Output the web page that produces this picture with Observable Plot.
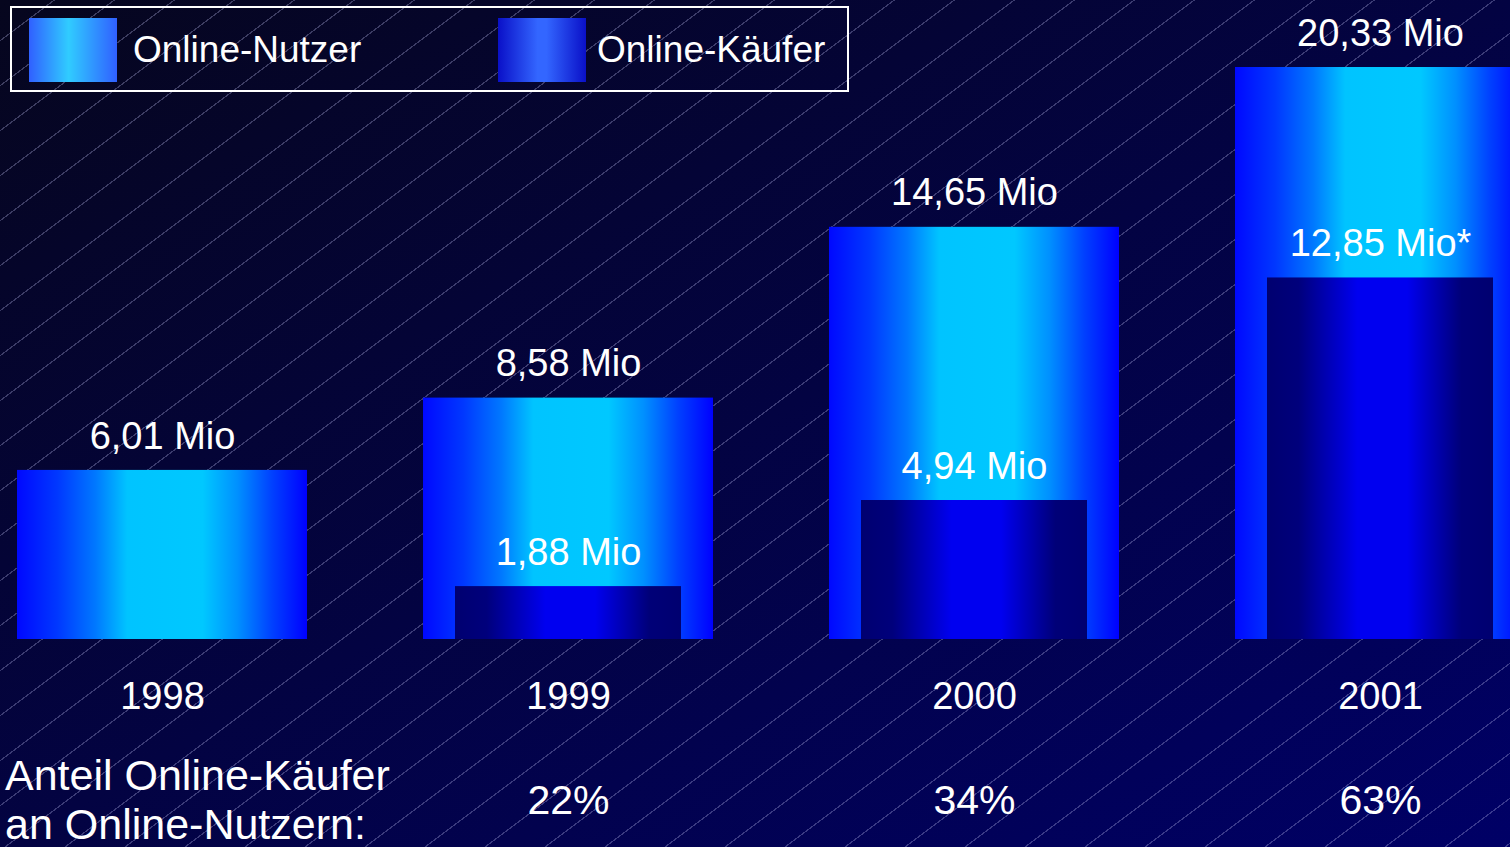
<!DOCTYPE html>
<html>
<head>
<meta charset="utf-8">
<script src="https://cdn.jsdelivr.net/npm/d3@7"></script>
<script src="https://cdn.jsdelivr.net/npm/@observablehq/plot@0.6"></script>
<style>
  html, body { margin: 0; padding: 0; overflow: hidden; background: #02023a; }
  #wrap {
    position: relative; width: 1510px; height: 847px; overflow: hidden;
    background: linear-gradient(to bottom right, #06061e, #000066);
    font-family: "Liberation Sans", Arial, sans-serif; color: #fff;
  }
  #lines {
    position: absolute; left: 0; top: 0; width: 1510px; height: 847px;
    background: repeating-linear-gradient(143.13deg,
      rgba(190,190,240,0) 0px, rgba(190,190,240,0) 32px,
      rgba(190,190,240,0.3) 32px, rgba(190,190,240,0.3) 33.2px,
      rgba(190,190,240,0) 33.2px, rgba(190,190,240,0) 36px);
  }
  #chart { position: absolute; left: 0; top: 0; }
  #chart svg { overflow: hidden; background: transparent; }
  #legend {
    position: absolute; left: 10px; top: 6px; width: 839px; height: 86px;
    box-sizing: border-box; border: 2px solid #fff;
  }
  .sw { position: absolute; top: 18px; width: 88px; height: 64px; }
  .lt { position: absolute; top: 30px; font-size: 37px; line-height: 40px; white-space: nowrap; }
  #caption {
    position: absolute; left: 5px; top: 751px; font-size: 43px; line-height: 49px; white-space: nowrap;
  }
</style>
</head>
<body>
<div id="wrap">
  <div id="lines"></div>
  <div id="chart"></div>
  <div id="legend"></div>
  <div class="sw" style="left:29px;background:linear-gradient(to right,#3060ff,#30ccff 45%,#3060ff)"></div>
  <div class="lt" style="left:133px">Online-Nutzer</div>
  <div class="sw" style="left:498px;background:linear-gradient(to right,#0a10c8,#3366ff 45%,#3366ff 55%,#0a10c8)"></div>
  <div class="lt" style="left:597px">Online-Käufer</div>
  <div id="caption">Anteil Online-Käufer<br>an Online-Nutzern:</div>
</div>
<script>
// ---- data ----
const years = ["1998", "1999", "2000", "2001"];
const nutzer = [6.01, 8.58, 14.65, 20.33];          // Online-Nutzer (Mio)
const kaeufer = [null, 1.88, 4.94, 12.85];          // Online-Käufer (Mio)
const kaeuferNote = ["", "", "", "*"];
const anteil = ["", "22%", "34%", "63%"];           // Anteil Online-Käufer an Online-Nutzern

const fmt = v => v.toFixed(2).replace(".", ",") + " Mio";

const nutzerData = years.map((y, i) => ({year: y, value: nutzer[i], label: fmt(nutzer[i])}));
const kaeuferData = years.map((y, i) => ({year: y, value: kaeufer[i], label: kaeufer[i] == null ? "" : fmt(kaeufer[i]) + kaeuferNote[i]}))
  .filter(d => d.value != null);
const anteilData = years.map((y, i) => ({year: y, text: anteil[i]})).filter(d => d.text);

const font = "'Liberation Sans', Arial, sans-serif";

const svg = Plot.plot({
  width: 1510,
  height: 847,
  marginTop: 67,
  marginBottom: 208,
  marginLeft: 0,
  marginRight: 0,
  style: {background: "transparent", color: "#fff", fontFamily: font, fontSize: "38px", overflow: "hidden"},
  x: {domain: years, range: [17, 1525], paddingInner: 0.2857, paddingOuter: 0, round: false, tickSize: 0, tickPadding: 43, label: null},
  y: {domain: [0, 20.33], axis: null},
  marks: [
    Plot.barY(nutzerData, {x: "year", y: "value", fill: "url(#gradNutzer)"}),
    Plot.barY(kaeuferData, {x: "year", y: "value", insetLeft: 32, insetRight: 32, fill: "url(#gradKaeufer)"}),
    Plot.text(nutzerData, {x: "year", y: "value", text: "label", dy: -34, fill: "#fff", fontSize: 38}),
    Plot.text(kaeuferData, {x: "year", y: "value", text: "label", dy: -34, fill: "#fff", fontSize: 38}),
    Plot.text(anteilData, {x: "year", text: "text", frameAnchor: "bottom", lineAnchor: "middle", dy: 161, fill: "#fff", fontSize: 41})
  ]
});

const defs = d3.select(svg).insert("defs", ":first-child");
function grad(id, stops) {
  const g = defs.append("linearGradient").attr("id", id)
    .attr("x1", "0").attr("y1", "0").attr("x2", "1").attr("y2", "0");
  stops.forEach(([o, c]) => g.append("stop").attr("offset", o).attr("stop-color", c));
}
grad("gradNutzer", [[0, "#0008ff"], [0.14, "#0038ff"], [0.27, "#0078ff"], [0.38, "#00c4ff"], [0.64, "#00c8ff"], [0.76, "#0090ff"], [0.88, "#0040ff"], [1, "#0000ff"]]);
grad("gradKaeufer", [[0, "#000070"], [0.14, "#00007c"], [0.4, "#0000f0"], [0.62, "#0000f0"], [0.86, "#000078"], [1, "#000070"]]);

document.getElementById("chart").appendChild(svg);
</script>
</body>
</html>
